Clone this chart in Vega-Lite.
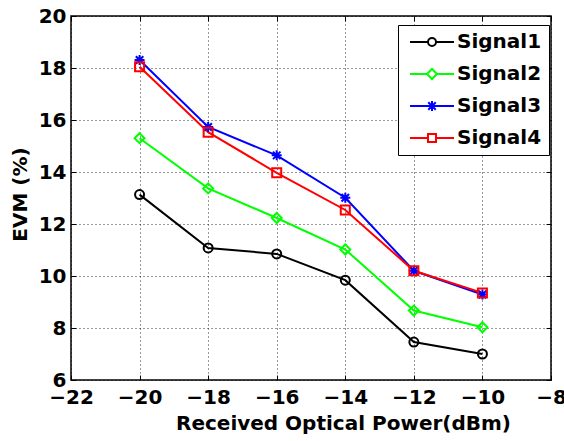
{
  "$schema": "https://vega.github.io/schema/vega-lite/v6.json",
  "width": 480,
  "height": 364,
  "autosize": "none",
  "padding": {"left": 71, "top": 16, "right": 13, "bottom": 61},
  "background": "white",
  "config": {
    "view": {"stroke": "black", "strokeWidth": 1.5},
    "font": "DejaVu Sans",
    "axis": {
      "labelFont": "DejaVu Sans",
      "labelFontSize": 20,
      "labelFontWeight": "bold",
      "labelColor": "black",
      "titleFont": "DejaVu Sans",
      "titleFontSize": 20,
      "titleFontWeight": "bold",
      "titleColor": "black",
      "domain": false,
      "tickColor": "black",
      "gridColor": "black",
      "gridDash": [1, 3],
      "gridOpacity": 0.8,
      "gridWidth": 1
    }
  },
  "data": {
    "values": [
      {"power": -20, "evm": 13.13, "series": "Signal1"},
      {"power": -18, "evm": 11.08, "series": "Signal1"},
      {"power": -16, "evm": 10.85, "series": "Signal1"},
      {"power": -14, "evm": 9.84, "series": "Signal1"},
      {"power": -12, "evm": 7.46, "series": "Signal1"},
      {"power": -10, "evm": 7.0, "series": "Signal1"},
      {"power": -20, "evm": 15.3, "series": "Signal2"},
      {"power": -18, "evm": 13.37, "series": "Signal2"},
      {"power": -16, "evm": 12.23, "series": "Signal2"},
      {"power": -14, "evm": 11.02, "series": "Signal2"},
      {"power": -12, "evm": 8.67, "series": "Signal2"},
      {"power": -10, "evm": 8.03, "series": "Signal2"},
      {"power": -20, "evm": 18.31, "series": "Signal3"},
      {"power": -18, "evm": 15.73, "series": "Signal3"},
      {"power": -16, "evm": 14.64, "series": "Signal3"},
      {"power": -14, "evm": 13.01, "series": "Signal3"},
      {"power": -12, "evm": 10.2, "series": "Signal3"},
      {"power": -10, "evm": 9.29, "series": "Signal3"},
      {"power": -20, "evm": 18.05, "series": "Signal4"},
      {"power": -18, "evm": 15.53, "series": "Signal4"},
      {"power": -16, "evm": 13.97, "series": "Signal4"},
      {"power": -14, "evm": 12.54, "series": "Signal4"},
      {"power": -12, "evm": 10.2, "series": "Signal4"},
      {"power": -10, "evm": 9.35, "series": "Signal4"}
    ]
  },
  "layer": [
    {
      "mark": {"type": "line", "strokeWidth": 2},
      "encoding": {
        "x": {
          "field": "power", "type": "quantitative",
          "scale": {"domain": [-22, -8], "nice": false, "zero": false},
          "axis": {"orient": "bottom", "values": [-22, -20, -18, -16, -14, -12, -10, -8], "title": "Received Optical Power(dBm)", "titleX": 272, "tickSize": -5, "labelPadding": 12, "titlePadding": 6, "grid": true, "labelFlush": false}
        },
        "y": {
          "field": "evm", "type": "quantitative",
          "scale": {"domain": [6, 20], "nice": false, "zero": false},
          "axis": {"orient": "left", "values": [6, 8, 10, 12, 14, 16, 18, 20], "title": "EVM (%)", "titleY": 178, "tickSize": -5, "labelPadding": 10, "titlePadding": 8, "grid": true, "labelFlush": false}
        },
        "color": {
          "field": "series", "type": "nominal",
          "scale": {"domain": ["Signal1", "Signal2", "Signal3", "Signal4"], "range": ["#000000", "#00ff00", "#0000ff", "#ff0000"]},
          "legend": {
            "orient": "none",
            "legendX": 327,
            "legendY": 9,
            "title": null,
            "padding": 7,
            "strokeColor": "black",
            "fillColor": "white",
            "labelFont": "DejaVu Sans",
            "labelFontSize": 20,
            "labelFontWeight": "bold",
            "labelColor": "black",
            "labelOffset": 32,
            "symbolSize": 100,
            "symbolStrokeWidth": 2,
            "rowPadding": 12,
            "encode": {
              "symbols": {
                "update": {
                  "shape": {"signal": "datum.value === 'Signal1' ? 'M-1,0L2.6,0M4.2,0L7.8,0M2.6,0A0.8,0.8 0 1,1 4.2,0A0.8,0.8 0 1,1 2.6,0' : datum.value === 'Signal2' ? 'M-1,0L2.4,0M4.4,0L7.8,0M2.4,0L3.4,-1L4.4,0L3.4,1Z' : datum.value === 'Signal3' ? 'M-1,0L7.8,0M3.4,-1L3.4,1M2.65,-0.75L4.15,0.75M2.65,0.75L4.15,-0.75' : 'M-1,0L2.6,0M4.2,0L7.8,0M2.6,-0.8L4.2,-0.8L4.2,0.8L2.6,0.8Z'"},
                  "fill": {"value": "transparent"},
                  "strokeWidth": {"value": 2}
                }
              }
            }
          }
        }
      }
    },
    {
      "transform": [{"filter": "datum.series === 'Signal1'"}],
      "mark": {"type": "point", "shape": "circle", "filled": false, "size": 81, "strokeWidth": 2, "color": "#000000", "opacity": 1},
      "encoding": {
        "x": {"field": "power", "type": "quantitative", "axis": {"orient": "top", "values": [-22, -20, -18, -16, -14, -12, -10, -8], "labels": false, "title": null, "tickSize": -5, "grid": false}},
        "y": {"field": "evm", "type": "quantitative", "axis": {"orient": "right", "values": [6, 8, 10, 12, 14, 16, 18, 20], "labels": false, "title": null, "tickSize": -5, "grid": false}}
      }
    },
    {
      "transform": [{"filter": "datum.series === 'Signal2'"}],
      "mark": {"type": "point", "shape": "diamond", "filled": false, "size": 100, "strokeWidth": 2, "color": "#00ff00", "opacity": 1},
      "encoding": {
        "x": {"field": "power", "type": "quantitative", "axis": null},
        "y": {"field": "evm", "type": "quantitative", "axis": null}
      }
    },
    {
      "transform": [{"filter": "datum.series === 'Signal3'"}],
      "mark": {"type": "point", "shape": "M-1,0L1,0M0,-1L0,1M-0.75,-0.75L0.75,0.75M-0.75,0.75L0.75,-0.75", "filled": false, "size": 100, "strokeWidth": 2, "color": "#0000ff", "opacity": 1},
      "encoding": {
        "x": {"field": "power", "type": "quantitative", "axis": null},
        "y": {"field": "evm", "type": "quantitative", "axis": null}
      }
    },
    {
      "transform": [{"filter": "datum.series === 'Signal4'"}],
      "mark": {"type": "point", "shape": "square", "filled": false, "size": 81, "strokeWidth": 2, "color": "#ff0000", "opacity": 1},
      "encoding": {
        "x": {"field": "power", "type": "quantitative", "axis": null},
        "y": {"field": "evm", "type": "quantitative", "axis": null}
      }
    }
  ],
  "resolve": {"axis": {"x": "independent", "y": "independent"}}
}
